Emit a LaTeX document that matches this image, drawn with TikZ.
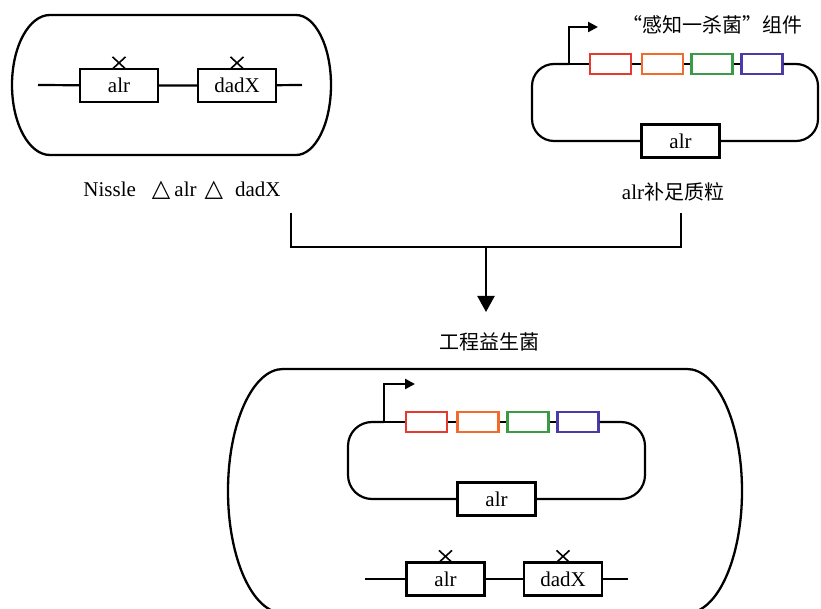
\documentclass[tikz,border=0pt]{standalone}
\usepackage{fontspec}
\setmainfont{Liberation Serif}
\newfontfamily\cjk{Noto Sans CJK SC}
\newfontfamily\sym{DejaVu Sans}
\usetikzlibrary{arrows.meta}

\definecolor{partred}{HTML}{E53A2E}
\definecolor{partorange}{HTML}{F26B2A}
\definecolor{partgreen}{HTML}{3C9A45}
\definecolor{partblue}{HTML}{4B3BA8}

\tikzset{
  wire/.style={line width=2.2pt, black},
  cellwall/.style={line width=2.3pt, black},
  gene/.style={draw, line width=2.2pt, fill=white, minimum width=78pt,
    minimum height=33pt, inner sep=0pt,
    font=\fontsize{21}{23}\selectfont},
  part/.style={draw=#1, line width=2.1pt, fill=white, minimum width=41pt,
    minimum height=20pt, inner sep=0pt},
  lab/.style={inner sep=0pt, font=\fontsize{21}{23}\selectfont},
  cjklab/.style={inner sep=0pt, font=\fontsize{20}{22}\selectfont},
  promoter/.style={wire, -{Triangle[length=10pt,width=10pt]}},
  knockout/.pic={\draw[line width=1.6pt] (-6.5,-11) -- (6.5,1) (6.5,-11) -- (-6.5,1);}
}

\begin{document}
\begin{tikzpicture}[x=1pt, y=-1pt]
\useasboundingbox (0,0) rectangle (821,609);
\clip (0,0) rectangle (821,609);
\fill[white] (0,0) rectangle (821,609);

% ---------- knockout strain ----------
\draw[cellwall] (50,15) -- (296,15)
  arc[start angle=-90, end angle=90, x radius=35, y radius=70]
  -- (50,155)
  arc[start angle=90, end angle=270, x radius=38, y radius=70] -- cycle;
\coordinate (c1l) at (38,85);
\coordinate (c1r) at (302,85);
\node[gene] (alrA) at (119,85.5) {alr};
\node[gene] (dadA) at (237,85.5) {dadX};
\draw[wire] (c1l) -- (alrA) -- (dadA) -- (c1r);
\pic at (alrA.north) {knockout};
\pic at (dadA.north) {knockout};
\node[lab] (strain) at (182,190) {Nissle\hspace{16pt}{\sym\fontsize{24}{24}\selectfont △}\hspace{4pt}alr\hspace{8pt}{\sym\fontsize{24}{24}\selectfont △}\hspace{12pt}dadX};

% ---------- complementation plasmid ----------
\node[part=partred]    (redA) at (610.5,64) {};
\node[part=partorange] (oraA) at (662.5,64) {};
\node[part=partgreen]  (grnA) at (712,64) {};
\node[part=partblue]   (bluA) at (762,64) {};
\node[gene] (alrP) at (680.5,141) {alr};
\coordinate (prA) at (569,64);
\coordinate (pA1) at (532,64);
\coordinate (pA2) at (532,141);
\coordinate (pA3) at (818,141);
\coordinate (pA4) at (818,64);
\draw[wire, rounded corners=22pt] (prA) -- (pA1) -- (pA2) -- (alrP.west);
\draw[wire, rounded corners=22pt] (alrP.east) -- (pA3) -- (pA4) -- (bluA.east);
\draw[wire] (prA) -- (redA.west);
\draw[wire] (redA) -- (oraA) -- (grnA) -- (bluA);
\draw[promoter] (prA) -- ++(0,-37) -- ++(29,0);
\node[cjklab] (module) at (712,25) {\cjk “感知一杀菌”组件};
\node[lab] (plasmid) at (673,192) {alr{\cjk\fontsize{20}{22}\selectfont 补足质粒}};

% ---------- combining the two ----------
\coordinate (jl) at (291,213);
\coordinate (jr) at (681,213);
\coordinate (join) at (486,247);
\coordinate (tip) at (486,312);
\draw[wire] (jl) |- (join) -| (jr);
\draw[wire, -{Triangle[length=16pt,width=17pt]}] (join) -- (tip);
\node[cjklab] (product) at (489,342) {\cjk 工程益生菌};

% ---------- engineered strain ----------
\draw[cellwall] (283,369) -- (687,369)
  arc[start angle=-90, end angle=90, x radius=55, y radius=122]
  -- (283,613)
  arc[start angle=90, end angle=270, x radius=55, y radius=122] -- cycle;

\node[part=partred]    (redB) at (426.5,422) {};
\node[part=partorange] (oraB) at (478,422) {};
\node[part=partgreen]  (grnB) at (528,422) {};
\node[part=partblue]   (bluB) at (578,422) {};
\node[gene] (alrQ) at (496.5,499) {alr};
\coordinate (prB) at (384,422);
\coordinate (pB1) at (348,422);
\coordinate (pB2) at (348,499);
\coordinate (pB3) at (645,499);
\coordinate (pB4) at (645,422);
\draw[wire, rounded corners=24pt] (prB) -- (pB1) -- (pB2) -- (alrQ.west);
\draw[wire, rounded corners=24pt] (alrQ.east) -- (pB3) -- (pB4) -- (bluB.east);
\draw[wire] (prB) -- (redB.west);
\draw[wire] (redB) -- (oraB) -- (grnB) -- (bluB);
\draw[promoter] (prB) -- ++(0,-38) -- ++(31,0);

\coordinate (c2l) at (365,579);
\coordinate (c2r) at (628,579);
\node[gene] (alrB) at (445.5,579) {alr};
\node[gene] (dadB) at (563,579) {dadX};
\draw[wire] (c2l) -- (alrB) -- (dadB) -- (c2r);
\pic at (alrB.north) {knockout};
\pic at (dadB.north) {knockout};
\end{tikzpicture}
\end{document}
